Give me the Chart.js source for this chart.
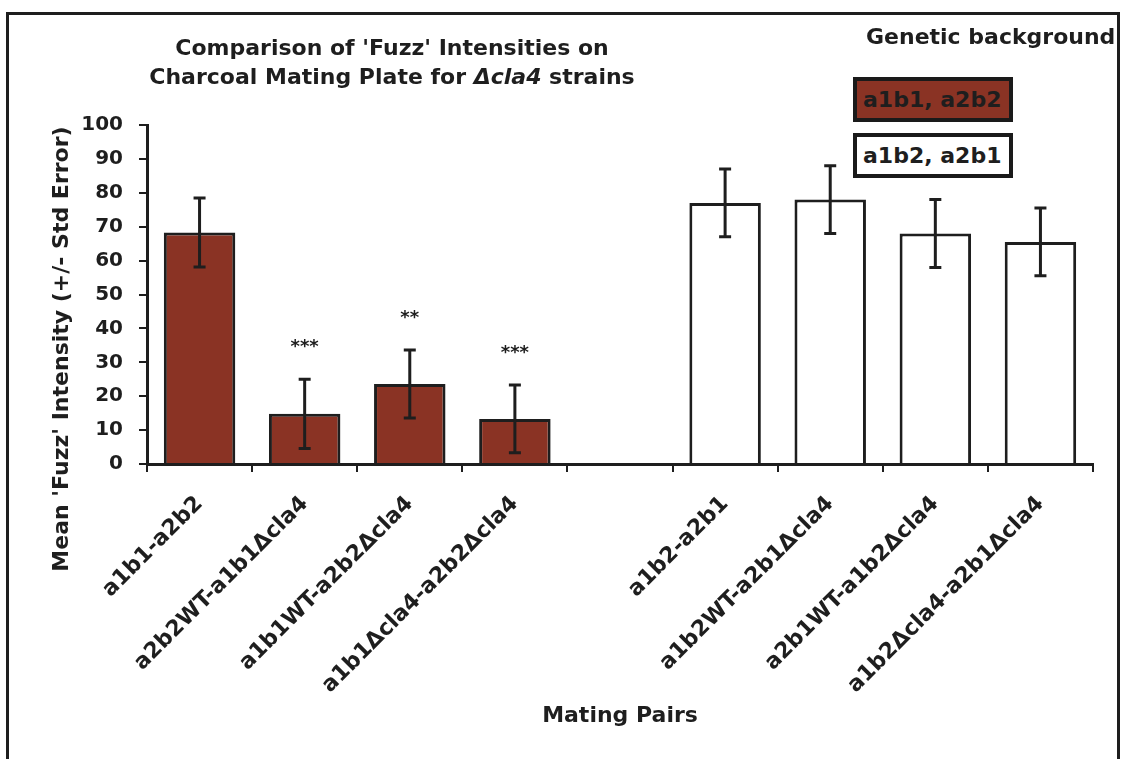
<!doctype html>
<html>

<head>
    <title>Fuzz intensities</title>
    <script src="https://cdn.jsdelivr.net/npm/chart.js@4.4.1/dist/chart.umd.min.js"></script>
    <style>
    body {
        margin: 0;
        background: #fff;
        font-family: 'DejaVu Sans', sans-serif;
        font-weight: bold;
        color: #1e1e1e;
    }
    #wrap {
        position: relative;
        width: 1123px;
        height: 759px;
        overflow: hidden;
    }
    #frame {
        position: absolute;
        left: 6px;
        top: 12px;
        width: 1114px;
        height: 800px;
        border: 3px solid #1e1e1e;
        box-sizing: border-box;
    }
    #title {
        position: absolute;
        left: 392px;
        top: 33px;
        transform: translateX(-50%);
        font-size: 22px;
        line-height: 29px;
        text-align: center;
        white-space: nowrap;
    }
    #ytitle {
        position: absolute;
        left: 60px;
        top: 349px;
        transform: translate(-50%, -50%) rotate(-90deg);
        font-size: 22px;
        white-space: nowrap;
    }
    #bgtitle {
        position: absolute;
        left: 866px;
        top: 24px;
        font-size: 22px;
        line-height: 26px;
        white-space: nowrap;
    }
    .key {
        position: absolute;
        left: 853px;
        width: 160px;
        height: 45px;
        border: 4px solid #1a1a1a;
        box-sizing: border-box;
        font-size: 22px;
        line-height: 38px;
        padding-left: 6px;
        white-space: nowrap;
    }
    canvas {
        position: absolute;
        left: 0;
        top: 0;
    }
    </style>
</head>

<body>
    <div id="wrap">
        <canvas id="canvas" width="1123" height="759"></canvas>
        <div id="frame"></div>
        <div id="title">Comparison of 'Fuzz' Intensities on<br>Charcoal Mating Plate for <i>Δcla4</i> strains</div>
        <div id="ytitle">Mean 'Fuzz' Intensity (+/- Std Error)</div>
        <div id="bgtitle">Genetic background</div>
        <div class="key" id="key1"></div>
        <div class="key" id="key2"></div>
    </div>
    <script>
    var pairs = ['a1b1-a2b2', 'a2b2WT-a1b1Δcla4', 'a1b1WT-a2b2Δcla4', 'a1b1Δcla4-a2b2Δcla4', '',
        'a1b2-a2b1', 'a1b2WT-a2b1Δcla4', 'a2b1WT-a1b2Δcla4', 'a1b2Δcla4-a2b1Δcla4'];
    var means = [68.3, 14.8, 23.6, 13.3, null, 77, 78, 68, 65.5];
    var stdErrors = [10.2, 10.2, 10, 10, null, 10, 10, 10, 10];
    var stars = ['', '***', '**', '***', '', '', '', '', ''];
    var backgrounds = ['a1b1, a2b2', 'a1b1, a2b2', 'a1b1, a2b2', 'a1b1, a2b2', '',
        'a1b2, a2b1', 'a1b2, a2b1', 'a1b2, a2b1', 'a1b2, a2b1'];
    var groupNames = ['a1b1, a2b2', 'a1b2, a2b1'];
    var groupColors = ['#8a3324', '#ffffff'];

    var ink = '#1e1e1e';
    var fontFamily = "'DejaVu Sans', sans-serif";

    var barColors = backgrounds.map(function(b) {
        var k = groupNames.indexOf(b);
        return k < 0 ? 'rgba(0,0,0,0)' : groupColors[k];
    });

    // legend keys
    groupNames.forEach(function(name, k) {
        var el = document.getElementById('key' + (k + 1));
        el.textContent = name;
        el.style.background = groupColors[k];
        el.style.top = (77 + k * 56) + 'px';
    });

    var errorBars = {
        id: 'errorBars',
        afterDatasetsDraw: function(chart) {
            var ctx = chart.ctx;
            var yScale = chart.scales.y;
            var meta = chart.getDatasetMeta(0);
            ctx.save();
            ctx.strokeStyle = ink;
            ctx.fillStyle = ink;
            ctx.lineWidth = 3;
            ctx.font = 'bold 18px ' + fontFamily;
            ctx.textAlign = 'center';
            ctx.textBaseline = 'alphabetic';
            meta.data.forEach(function(bar, i) {
                if (means[i] == null) return;
                var top = yScale.getPixelForValue(means[i] + stdErrors[i]);
                var bottom = yScale.getPixelForValue(means[i] - stdErrors[i]);
                ctx.beginPath();
                ctx.moveTo(bar.x, top);
                ctx.lineTo(bar.x, bottom);
                ctx.moveTo(bar.x - 6, top);
                ctx.lineTo(bar.x + 6, top);
                ctx.moveTo(bar.x - 6, bottom);
                ctx.lineTo(bar.x + 6, bottom);
                ctx.stroke();
                if (stars[i]) {
                    ctx.fillText(stars[i], bar.x, top - 27);
                }
            });
            ctx.restore();
        }
    };

    var config = {
        type: 'bar',
        data: {
            labels: pairs,
            datasets: [{
                data: means,
                backgroundColor: barColors,
                borderColor: ink,
                borderWidth: 3,
                categoryPercentage: 1,
                barPercentage: 0.68
            }]
        },
        options: {
            responsive: false,
            animation: false,
            layout: {
                padding: { left: 0, top: 125, right: 30, bottom: 0 }
            },
            plugins: {
                legend: { display: false },
                tooltip: { enabled: false }
            },
            scales: {
                x: {
                    afterFit: function(scale) { scale.height = 295; },
                    grid: {
                        drawOnChartArea: false,
                        drawTicks: true,
                        tickLength: 8,
                        lineWidth: 2,
                        color: ink
                    },
                    border: { display: true, color: ink, width: 3 },
                    ticks: {
                        autoSkip: false,
                        maxRotation: 45,
                        minRotation: 45,
                        padding: 19,
                        color: ink,
                        font: { family: fontFamily, size: 22, weight: 'bold' }
                    },
                    title: {
                        display: true,
                        text: 'Mating Pairs',
                        color: ink,
                        padding: { top: 0, bottom: 30 },
                        font: { family: fontFamily, size: 22, weight: 'bold' }
                    }
                },
                y: {
                    min: 0,
                    max: 100,
                    afterFit: function(scale) { scale.width = 147; },
                    grid: {
                        drawOnChartArea: false,
                        drawTicks: true,
                        tickLength: 8,
                        lineWidth: 2,
                        color: ink
                    },
                    border: { display: true, color: ink, width: 3 },
                    ticks: {
                        stepSize: 10,
                        padding: 16,
                        color: ink,
                        font: { family: fontFamily, size: 20, weight: 'bold' }
                    }
                }
            }
        },
        plugins: [errorBars]
    };

    window.onload = function() {
        window.myBar = new Chart(document.getElementById('canvas'), config);
    };
    </script>
</body>

</html>
